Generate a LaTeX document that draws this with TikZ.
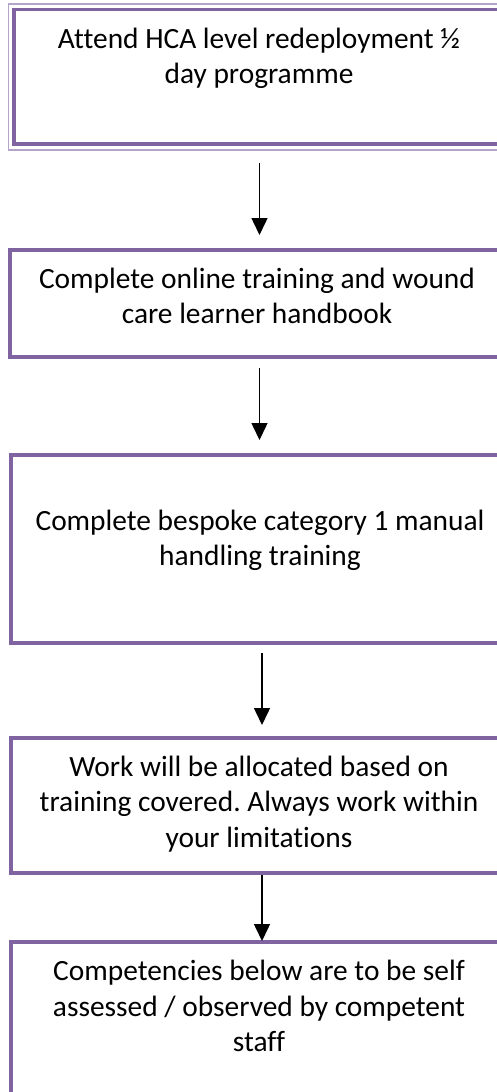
\documentclass[tikz,border=0pt]{standalone}
\usepackage{fontspec}
\setmainfont{Carlito}[Ligatures=NoCommon]
\frenchspacing
\usetikzlibrary{arrows.meta}
\definecolor{flowpurple}{RGB}{128,100,162}
\definecolor{framelilac}{RGB}{180,164,201}

\begin{document}
\begin{tikzpicture}
[
x=1pt,y=-1pt,
box/.style={draw=flowpurple,line width=4.5pt,minimum width=497pt,inner sep=0pt},
boxtext/.style={anchor=base,align=center,inner sep=0pt,font=\fontsize{29.4}{35.5}\selectfont},
flow/.style={-{Triangle[width=16pt,length=17pt]},line width=1.5pt},
]
\useasboundingbox (0,0) rectangle (497,1092);

%Place the boxes
\node[box,line width=3.5pt,minimum width=491pt,minimum height=134.5pt] (a) at (259.5,76.75) {};
\node[box,minimum width=499pt,minimum height=107pt] (b) at (259.5,303.5) {};
\node[box,minimum height=188pt] (c) at (259.5,549) {};
\node[box,minimum height=135pt] (d) at (259.5,805.5) {};
\node[box,minimum height=198pt] (e) at (259.5,1041) {};
%thin outer line of the first frame
\draw[framelilac,line width=1.5pt] ([shift={(-4,-4)}]a.north west) rectangle ([shift={(4,4)}]a.south east);

%Place the texts (anchored at the last line)
\node[boxtext] (ta) at (259,83.5) {Attend HCA level redeployment ½\\day programme};
\node[boxtext] (tb) at (257,323.5) {Complete online training and wound\\care learner handbook};
\node[boxtext] (tc) at (260,565.5) {Complete bespoke category 1 manual\\handling training};
\node[boxtext] (td) at (259,847) {Work will be allocated based on\\training covered. Always work within\\your limitations};
\node[boxtext] (te) at (259,1051.5) {Competencies below are to be self\\assessed / observed by competent\\staff};

%Draw the arrows
\draw[flow,shorten <=17pt,shorten >=12.75pt] (a) -- (b);
\draw[flow,shorten <=8.75pt,shorten >=12.75pt] (b) -- (c);
\draw[flow,shorten <=7.75pt,shorten >=10.75pt] ([xshift=2.5pt]c.south) -- ([xshift=2.5pt]d.north);
\draw[flow,shorten >=-1.25pt] ([xshift=2.5pt]d.south) -- ([xshift=2.5pt]e.north);
\end{tikzpicture}
\end{document}
